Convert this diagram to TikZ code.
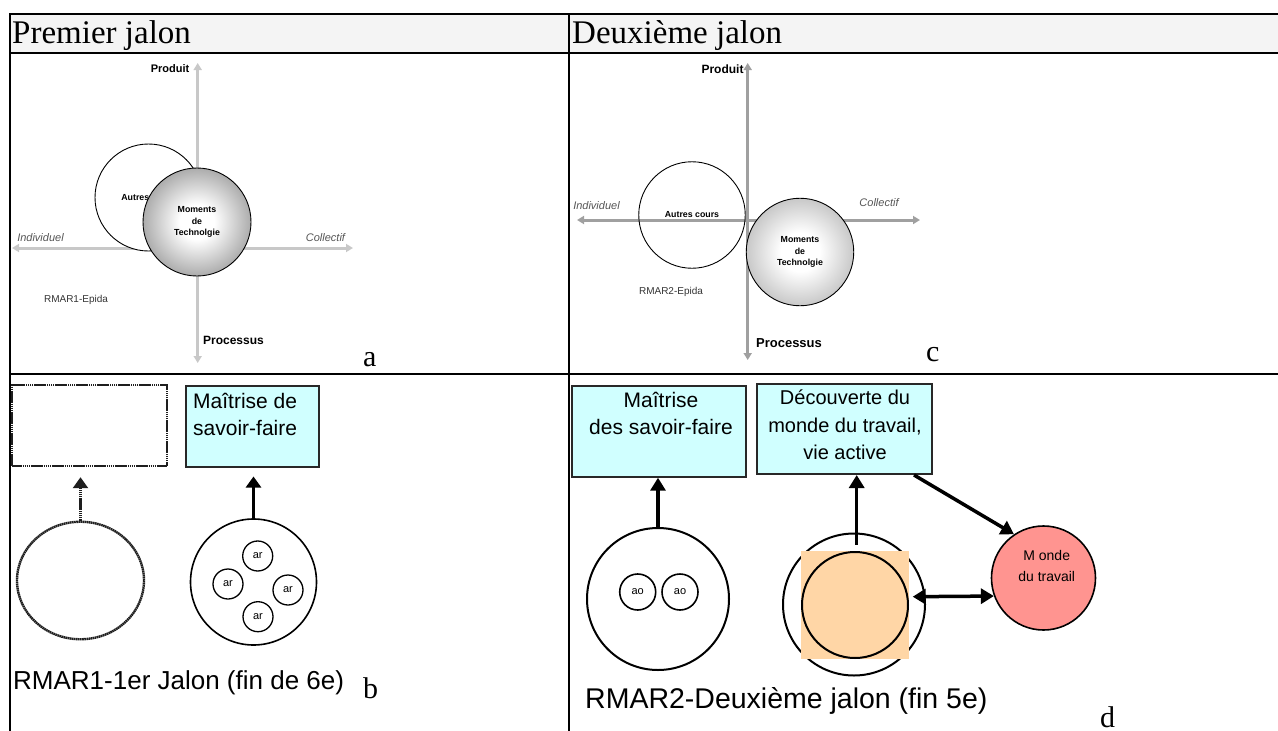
\documentclass[tikz,border=0pt]{standalone}
\usepackage{fontspec}
\setmainfont{Liberation Serif}
\setsansfont{Liberation Sans}
\usetikzlibrary{arrows.meta,calc,shapes.geometric}
\definecolor{hdrgray}{RGB}{244,244,244}
\definecolor{axA}{RGB}{200,200,200}
\definecolor{axC}{RGB}{160,160,160}
\definecolor{cyanfill}{RGB}{208,255,255}
\definecolor{peach}{RGB}{255,214,166}
\definecolor{salmon}{RGB}{255,148,144}
\definecolor{boxline}{RGB}{40,40,40}
\definecolor{labgray}{RGB}{85,85,85}
\definecolor{txtgray}{RGB}{51,51,51}
\definecolor{edgeA}{RGB}{172,172,172}
\definecolor{edgeC}{RGB}{200,200,200}
\definecolor{dotcol}{RGB}{30,30,30}
\pgfdeclareradialshading{momA}{\pgfpoint{0bp}{0bp}}{color(0bp)=(white); color(8bp)=(white); color(25bp)=(edgeA); color(50bp)=(edgeA)}
\pgfdeclareradialshading{momC}{\pgfpoint{0bp}{0bp}}{color(0bp)=(white); color(9bp)=(white); color(25bp)=(edgeC); color(50bp)=(edgeC)}
\newcommand\fsz[2]{\fontsize{#1}{#2}\selectfont}
\begin{document}
\begin{tikzpicture}[x=1pt,y=-1pt,
  tline/.style={line width=2pt},
  hdr/.style={anchor=base west,inner sep=0,font=\rmfamily\fsz{33}{38}},
  lbl/.style={anchor=base west,inner sep=0,font=\rmfamily\fsz{30}{36}},
  axisa/.style={draw=axA,line width=3pt,{Triangle[length=7pt,width=8pt]}-{Triangle[length=7pt,width=8pt]}},
  axisc/.style={draw=axC,line width=3pt,{Triangle[length=7pt,width=8pt]}-{Triangle[length=7pt,width=8pt]}},
  thincirc/.style={circle,draw,line width=0.9pt,inner sep=0},
  bold8/.style={font=\sffamily\bfseries\fsz{8.8}{11.7},align=center},
  axlab/.style={inner sep=0,font=\sffamily\itshape\fsz{11}{13},text=labgray},
  eplab/.style={inner sep=0,font=\sffamily\fsz{10}{12},text=txtgray},
  axbold/.style={inner sep=0,font=\sffamily\bfseries\fsz{#1}{14}},
  dotpat/.style={draw=dotcol,line width=2.4pt,dash pattern=on 1.6pt off 0.5pt},
  cyanbox/.style={draw=boxline,line width=2pt,fill=cyanfill,inner sep=0},
  btext/.style={inner sep=0,font=\sffamily\fsz{#1}{27.5}},
  bcirc/.style={circle,draw,line width=1.6pt,inner sep=0},
  scirc/.style={circle,draw,line width=1.3pt,inner sep=0,font=\sffamily\fsz{11}{13}},
  arr/.style={line width=3.5pt,-{Triangle[length=13pt,width=15pt]}},
  darr/.style={line width=3.5pt,{Triangle[length=13pt,width=15pt]}-{Triangle[length=13pt,width=15pt]}}]
\useasboundingbox (0,0) rectangle (1278,731);
% table
\fill[hdrgray] (10,14) rectangle (1278,52.5);
\draw[tline] (10,14) -- (1278,14);
\draw[tline] (10,52.5) -- (1278,52.5);
\draw[tline] (10,374) -- (1278,374);
\draw[tline] (10,13) -- (10,731);
\draw[tline] (569,13) -- (569,731);
\node[hdr] (h1) at (12,43) {Premier jalon};
\node[hdr] (h2) at (572,43) {Deuxième jalon};

% ---------- a ----------
\draw[axisa] (197.7,363) -- (197.7,63);
\draw[axisa] (12,248) -- (353,248);
\node[thincirc,fill=white,minimum size=107,bold8] (autA) at (148.5,197.5) {Autres cours};
\node[thincirc,minimum size=108,shading=momA,bold8] (motA) at (197,222) {Moments\\de\\Technolgie};
\node[axbold=11] (prA) at (170,69) {Produit};
\node[axlab] (inA) at (40.5,238) {Individuel};
\node[axlab] (coA) at (325.5,238) {Collectif};
\node[eplab] (epA) at (76,300) {RMAR1-Epida};
\node[axbold=12] (psA) at (233.5,340) {Processus};
\node[lbl] (la) at (363,366.5) {a};

% ---------- c ----------
\draw[axisc] (747.7,360) -- (747.7,63);
\draw[axisc] (577,220) -- (920,220);
\node[thincirc,minimum size=106.5,bold8] (autC) at (692,215) {Autres cours};
\node[thincirc,minimum size=107.5,shading=momC,bold8] (motC) at (800,252) {Moments\\de\\Technolgie};
\node[axbold=12] (prC) at (722.5,69) {Produit};
\node[axlab] (inC) at (596.5,206) {Individuel};
\node[axlab] (coC) at (879,203) {Collectif};
\node[eplab] (epC) at (671,292) {RMAR2-Epida};
\node[axbold=13] (psC) at (789,343) {Processus};
\node[lbl] (lc) at (926,361.7) {c};

% ---------- b ----------
\node[draw,dotpat,minimum width=155,minimum height=81,inner sep=0] (rb1) at (89.5,425.5) {};
\node[ellipse,draw,dotpat,minimum width=127,minimum height=117.5,inner sep=0] (cb1) at (80.5,580.5) {};
\draw[dotpat,-{Triangle[length=11pt,width=15pt]}] (cb1.north) -- ($(cb1.north |- rb1.south)+(0,10)$);
\node[cyanbox,minimum width=133,minimum height=81] (mb1) at (252.3,426) {};
\node[btext=21,anchor=north west,align=left] (mb1t) at (193,393) {Maîtrise de\\savoir-faire};
\node[bcirc,minimum size=126] (ca) at (253.5,582) {};
\draw[line width=3pt,-{Triangle[length=11pt,width=15pt]}] (ca.north) -- ($(ca.north |- mb1.south)+(0,9)$);
\node[scirc,minimum size=30] (ar1) at (257.7,556) {ar};
\node[scirc,minimum size=30] (ar2) at (228,584) {ar};
\node[scirc,minimum size=30] (ar3) at (288,590) {ar};
\node[scirc,minimum size=30] (ar4) at (258,616.7) {ar};
\node[anchor=base west,inner sep=0,font=\sffamily\fsz{26}{30}] (capb) at (13,689) {RMAR1-1er Jalon (fin de 6e)};
\node[lbl] (lb) at (363,698) {b};

% ---------- d ----------
\node[cyanbox,minimum width=174,minimum height=91] (d1) at (658.7,431.2) {};
\node[btext=21,anchor=north,align=center] (d1t) at (661,392) {Maîtrise\\des savoir-faire};
\node[cyanbox,minimum width=175,minimum height=90] (d2) at (844.5,429) {};
\node[btext=20,anchor=north,align=center] (d2t) at (845,390) {Découverte du\\monde du travail,\\vie active};
\node[bcirc,line width=2pt,minimum size=142] (cd1) at (658,599) {};
\node[scirc,line width=1.6pt,minimum size=36] (ao1) at (637.7,592) {ao};
\node[scirc,line width=1.6pt,minimum size=36] (ao2) at (680,592) {ao};
\draw[arr] (cd1.north) -- (cd1.north |- d1.south);
\node[bcirc,line width=2pt,minimum size=142] (co) at (854,604.5) {};
\fill[peach] (800.7,551) rectangle (909,658.7);
\node[bcirc,line width=2pt,minimum size=106] (ci) at (855,605) {};
\coordinate (cst) at ($(co.north)+(2.7,12)$);
\draw[arr] (cst) -- (cst |- d2.south);
\node[circle,draw,line width=1.6pt,fill=salmon,minimum size=104,inner sep=0] (mw) at (1043.5,578) {};
\node[inner sep=0,font=\sffamily\fsz{14}{20.7},align=center] (mwt) at (1046.7,566) {M onde\\du travail};
\draw[darr] ($(ci.east)+(3.7,-8.3)$) -- (mw.200);
\draw[arr] ($(d2.south east)+(-19,0)$) -- (mw.124);
\node[anchor=base west,inner sep=0,font=\sffamily\fsz{28.5}{32}] (capd) at (585,708) {RMAR2-Deuxième jalon (fin 5e)};
\node[lbl] (ld) at (1100,727) {d};
\end{tikzpicture}
\end{document}
